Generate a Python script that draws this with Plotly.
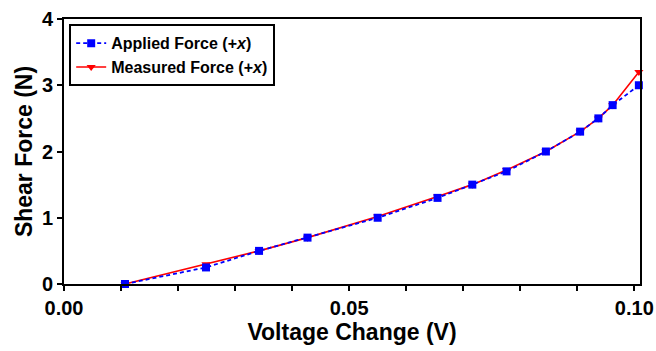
import plotly.graph_objects as go

voltage = [0.0107, 0.0249, 0.0342, 0.0427, 0.0550, 0.0655, 0.0716, 0.0776,
           0.0845, 0.0905, 0.0937, 0.0962, 0.1008]
applied = [0.0, 0.25, 0.50, 0.70, 1.00, 1.30, 1.50, 1.70, 2.00, 2.30, 2.50, 2.70, 3.00]
measured = [0.0, 0.30, 0.50, 0.70, 1.02, 1.32, 1.50, 1.72, 2.00, 2.30, 2.50, 2.70, 3.20]
x_ticks = [0.00, 0.05, 0.10]
x_tick_labels = ["0.00", "0.05", "0.10"]
y_ticks = [0, 1, 2, 3, 4]

FONT = "Arial, Liberation Sans, sans-serif"

fig = go.Figure()
fig.add_trace(go.Scatter(
    x=voltage, y=measured, mode="lines+markers",
    name="Measured Force (+<i>x</i>)",
    line=dict(color="#ff0000", width=1.6),
    marker=dict(symbol="triangle-down", size=8, color="#ff0000"),
    cliponaxis=False, legendrank=2,
))
fig.add_trace(go.Scatter(
    x=voltage, y=applied, mode="lines+markers",
    name="Applied Force (+<i>x</i>)",
    line=dict(color="#0000ff", width=1.8, dash="4px,3px"),
    marker=dict(symbol="square", size=8, color="#0000ff"),
    cliponaxis=False, legendrank=1,
))

fig.update_layout(
    width=656, height=351,
    margin=dict(l=64, r=16, t=19, b=67, autoexpand=False),
    paper_bgcolor="white", plot_bgcolor="white",
    font=dict(family=FONT, color="black"),
    showlegend=True,
    legend=dict(
        x=0.009, y=0.98, xanchor="left", yanchor="top",
        bordercolor="black", borderwidth=2, bgcolor="white",
        font=dict(family=FONT, size=16, weight="bold", color="black"),
        tracegroupgap=0, itemwidth=30,
    ),
)
fig.update_xaxes(
    range=[0, 0.101], showgrid=False, zeroline=False, automargin=False,
    showline=True, linecolor="black", linewidth=2, mirror=True,
    ticks="outside", ticklen=5, tickwidth=2, tickcolor="black",
    tickvals=x_ticks, ticktext=x_tick_labels,
    tickfont=dict(family=FONT, size=20, weight="bold"),
    minor=dict(dtick=0.01, tick0=0, ticks="outside", ticklen=5, tickwidth=2, tickcolor="black", showgrid=False),
    title=dict(text="Voltage Change (V)", font=dict(family=FONT, size=23, weight="bold"), standoff=6),
)
fig.update_yaxes(
    range=[0, 4], showgrid=False, zeroline=False, automargin=False,
    showline=True, linecolor="black", linewidth=2, mirror=True,
    ticks="outside", ticklen=5, tickwidth=2, tickcolor="black",
    tickvals=y_ticks,
    tickfont=dict(family=FONT, size=20, weight="bold"),
    title=dict(text="Shear Force (N)", font=dict(family=FONT, size=23, weight="bold"), standoff=3),
)

fig.write_html("out.html")
